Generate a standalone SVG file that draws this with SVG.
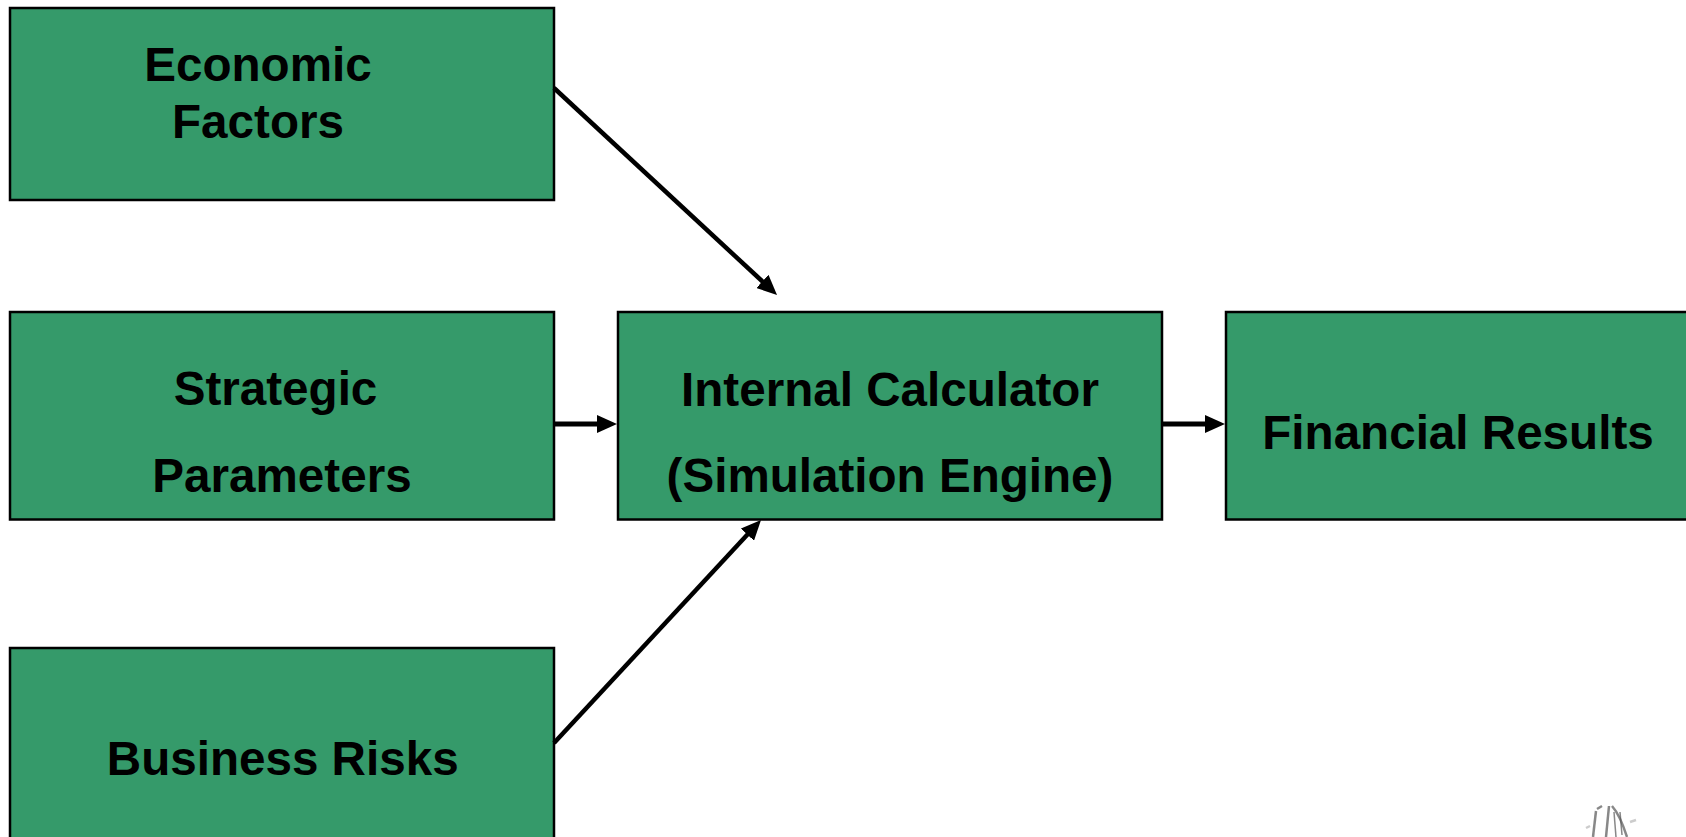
<svg xmlns="http://www.w3.org/2000/svg" width="1686" height="837" viewBox="0 0 1686 837">
  <style>
    .box { fill: #359a6a; stroke: #000; stroke-width: 2.5; }
    .lbl { font-family: "Liberation Sans", Arial, sans-serif; font-weight: bold; font-size: 47.6px; fill: #000; text-anchor: middle; }
    .conn { stroke: #000; fill: none; stroke-width: 4.5; }
    .sketch { stroke: #555; fill: none; stroke-width: 2.5; opacity: 0.7; }
  </style>
  <defs>
    <marker id="arr" viewBox="0 0 20 18" markerWidth="20" markerHeight="18" refX="10" refY="9" orient="auto" markerUnits="userSpaceOnUse">
      <path d="M0,0 L20,9 L0,18 z" fill="#000"/>
    </marker>
  </defs>
  <rect width="1686" height="837" fill="#fff"/>

  <g id="economic-factors">
    <rect class="box" x="10" y="8" width="544" height="192"/>
    <text class="lbl" x="258" y="80.5">Economic</text>
    <text class="lbl" x="258" y="137.6">Factors</text>
  </g>

  <g id="strategic-parameters">
    <rect class="box" x="10" y="312" width="544" height="207.5"/>
    <text class="lbl" x="275.5" y="404.7">Strategic</text>
    <text class="lbl" x="282" y="491.9">Parameters</text>
  </g>

  <g id="business-risks">
    <rect class="box" x="10" y="648" width="544" height="200"/>
    <text class="lbl" x="282.7" y="775.3">Business Risks</text>
  </g>

  <g id="internal-calculator">
    <rect class="box" x="618" y="312" width="544" height="207.5"/>
    <text class="lbl" x="890" y="406">Internal Calculator</text>
    <text class="lbl" x="890" y="492">(Simulation Engine)</text>
  </g>

  <g id="financial-results">
    <rect class="box" x="1226" y="312" width="470" height="207.5"/>
    <text class="lbl" x="1458" y="448.5">Financial Results</text>
  </g>

  <g id="connectors">
    <line class="conn" x1="554" y1="88" x2="769.7" y2="288.2" marker-end="url(#arr)"/>
    <line class="conn" x1="554" y1="424" x2="607" y2="424" style="stroke-width:5" marker-end="url(#arr)"/>
    <line class="conn" x1="554" y1="743" x2="754.2" y2="527.3" marker-end="url(#arr)"/>
    <line class="conn" x1="1162" y1="424" x2="1215" y2="424" style="stroke-width:5" marker-end="url(#arr)"/>
  </g>

  <g id="sketch">
    <path class="sketch" d="M1596,811 L1593,837"/>
    <path class="sketch" d="M1597,809 L1602,806"/>
    <path class="sketch" d="M1609,806 L1606,837"/>
    <path class="sketch" d="M1612,806 Q1620,815 1627,837"/>
    <path class="sketch" d="M1614,812 L1616,837" style="stroke-width:1.5"/>
    <path class="sketch" d="M1620,812 L1622,835" style="stroke-width:1.5"/>
    <path class="sketch" d="M1586,828 L1590,826" style="opacity:0.3"/>
    <path class="sketch" d="M1630,822 L1636,820" style="opacity:0.3"/>
  </g>
</svg>
